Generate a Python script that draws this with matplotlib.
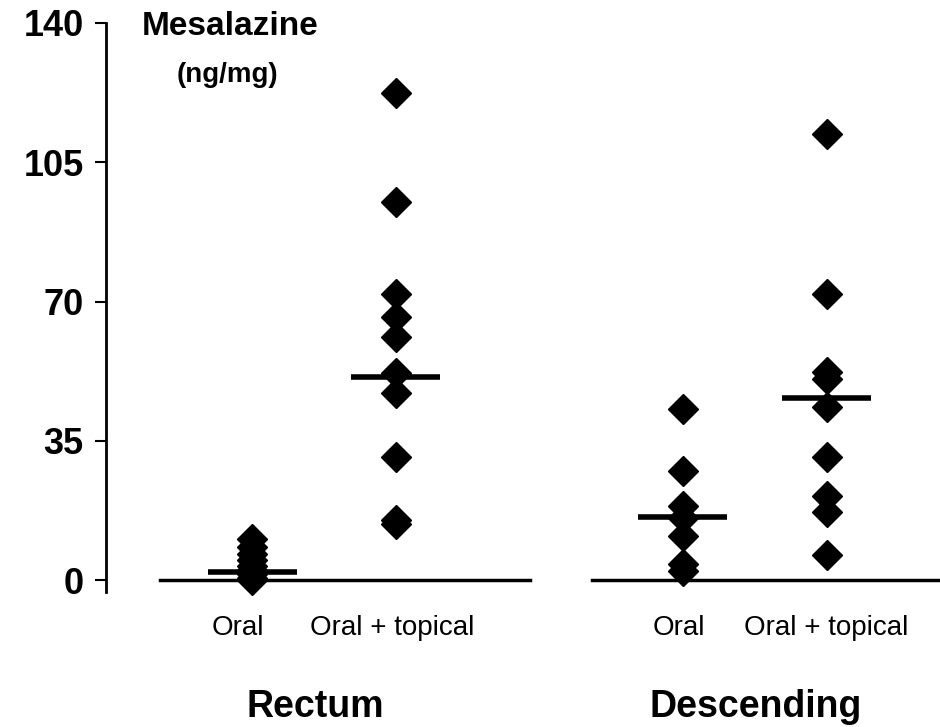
import matplotlib
matplotlib.use("Agg")
import matplotlib.pyplot as plt
from matplotlib import font_manager

# values (ng/mg)
groups = ["Rectum", "Descending"]
treatments = ["Oral", "Oral + topical"]
rectum_oral = [10.2, 8.3, 6.5, 5.0, 3.5, 2.5, 1.5, 0.5, 0.0]
rectum_topical = [122.5, 95.0, 72.0, 66.0, 61.0, 52.0, 47.0, 31.0, 15.0, 14.0]
desc_oral = [43.0, 27.5, 18.5, 15.5, 11.0, 4.0, 2.3]
desc_topical = [112.0, 72.0, 52.3, 50.5, 43.5, 31.0, 21.2, 17.0, 6.3]
medians = [2.0, 51.0, 15.8, 45.7]
yticks = [0, 35, 70, 105, 140]

series = [rectum_oral, rectum_topical, desc_oral, desc_topical]
xpos = [1, 2, 4, 5]

names = {f.name for f in font_manager.fontManager.ttflist}
bold_font = "Liberation Sans" if "Liberation Sans" in names else "DejaVu Sans"
narrow_font = "Liberation Sans Narrow" if "Liberation Sans Narrow" in names else bold_font

fig = plt.figure(figsize=(9.4, 7.27), dpi=100)
ax = fig.add_axes([106 / 940, 0.1857, 834 / 940, 0.7827])
ax.set_xlim(-0.017, 5.79)
ax.set_ylim(-3, 140)

for x, vals in zip(xpos, series):
    ax.plot([x] * len(vals), vals, linestyle="none", marker="D", ms=15.5,
            color="black", clip_on=False, zorder=3)

for x, m in zip(xpos, medians):
    ax.plot([x - 0.31, x + 0.31], [m, m], color="black", lw=4,
            solid_capstyle="butt", zorder=4)

# baselines under each region
ax.plot([0.359, 2.938], [0, 0], color="black", lw=2.5, zorder=2)
ax.plot([3.37, 5.79], [0, 0], color="black", lw=2.5, zorder=2, clip_on=False)

for s in ["top", "right", "bottom"]:
    ax.spines[s].set_visible(False)
ax.spines["left"].set_linewidth(2)
ax.spines["left"].set_bounds(-3, 140)
ax.set_xticks([])
ax.set_yticks(yticks)
ax.tick_params(axis="y", length=8, width=1.5, pad=8)
for lab in ax.get_yticklabels():
    lab.set_fontfamily(bold_font)
    lab.set_fontweight("bold")
    lab.set_fontsize(26)

ax.text(0.847, 139, "Mesalazine", ha="center", va="center",
        fontsize=24, fontweight="bold", family=bold_font, clip_on=False)
ax.text(0.826, 126.9, "(ng/mg)", ha="center", va="center",
        fontsize=20, fontweight="bold", family=narrow_font, clip_on=False)

label_x = [0.903, 1.976, 3.969, 5.0]
for lx, t in zip(label_x, treatments * 2):
    ax.text(lx, -12.1, t, ha="center", va="center", fontsize=20,
            family=narrow_font, clip_on=False)

for gx, g in zip([1.44, 4.51], groups):
    ax.text(gx, -31.9, g, ha="center", va="center", fontsize=27,
            fontweight="bold", family=bold_font, clip_on=False)

fig.savefig("out.png", dpi=100)
